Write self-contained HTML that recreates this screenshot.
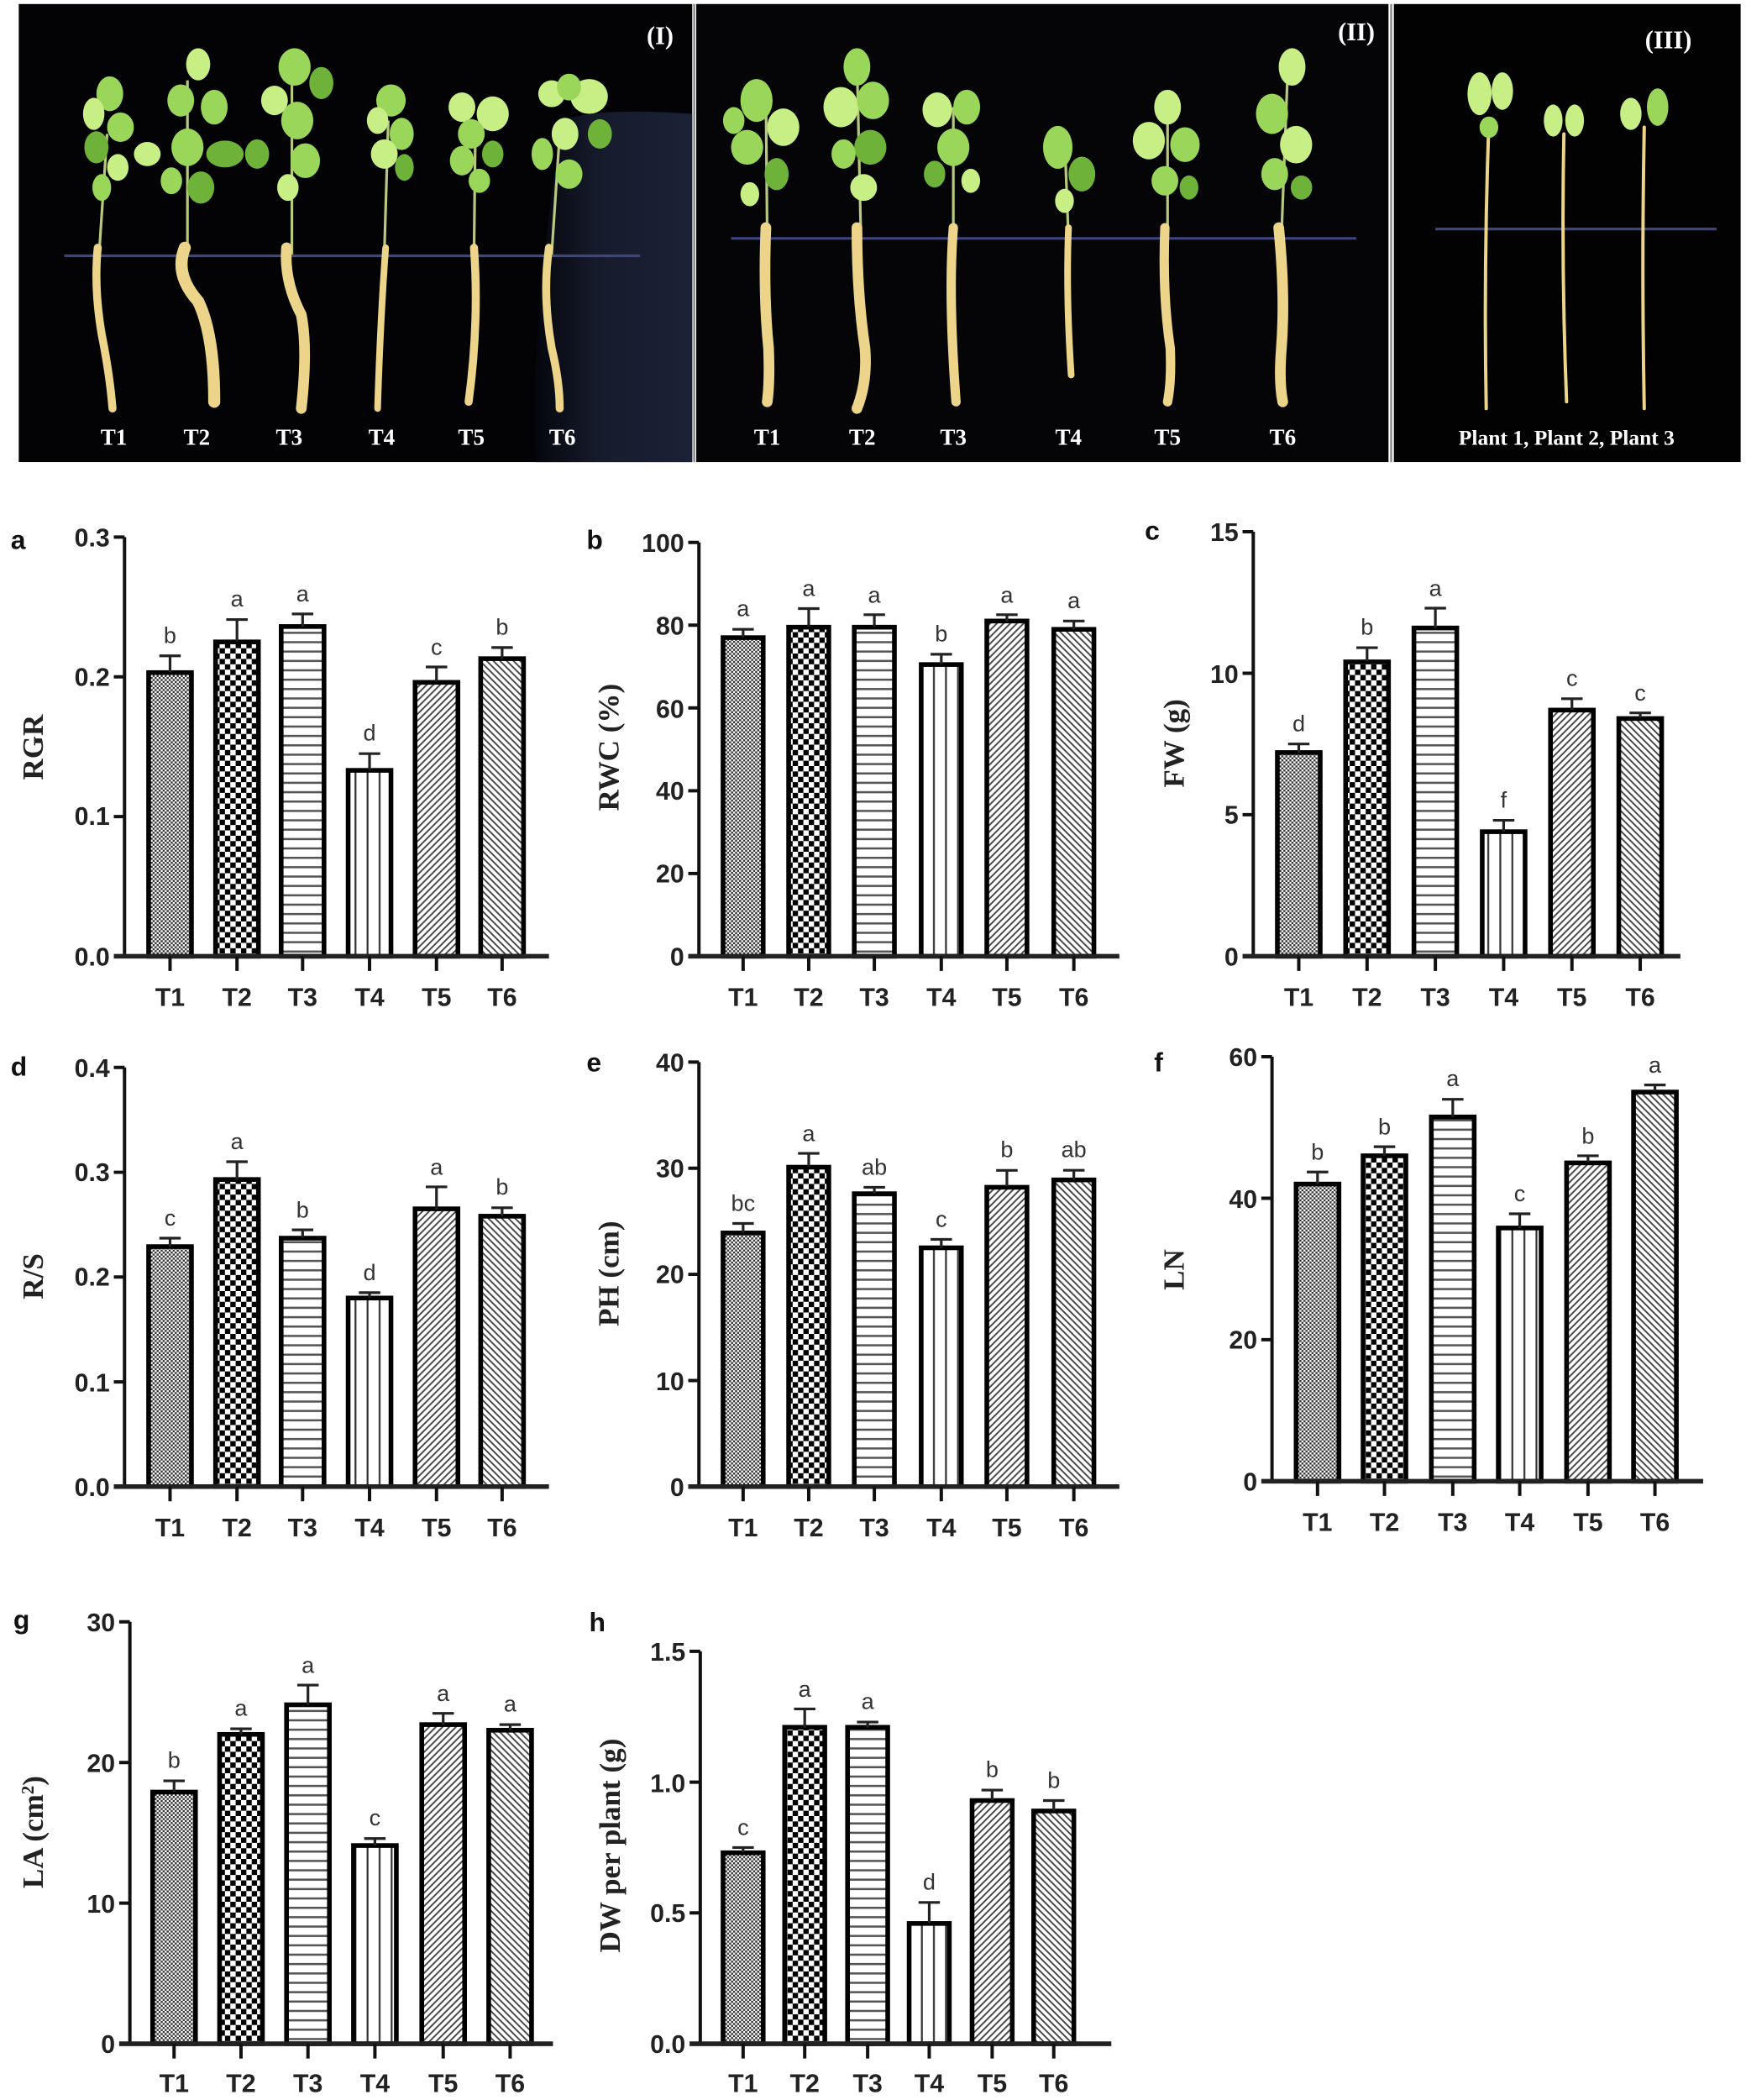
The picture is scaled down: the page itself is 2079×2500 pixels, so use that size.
<!DOCTYPE html>
<html><head><meta charset="utf-8"><style>
html,body{margin:0;padding:0;background:#fff}
svg{display:block}
.tk{font-family:"Liberation Sans",sans-serif;font-weight:bold;font-size:19px;fill:#222;text-anchor:end}
.xl{font-family:"Liberation Sans",sans-serif;font-weight:bold;font-size:19px;fill:#222;text-anchor:middle}
.lt{font-family:"Liberation Sans",sans-serif;font-size:17px;fill:#333;text-anchor:middle}
.pl{font-family:"Liberation Sans",sans-serif;font-weight:bold;font-size:20px;fill:#111}
.yl{font-family:"Liberation Serif",serif;font-weight:bold;font-size:22px;fill:#222;text-anchor:middle}
.ph{font-family:"Liberation Serif",serif;font-weight:bold;font-size:17px;fill:#fff;text-anchor:middle}
.bar{stroke:#000;stroke-width:3.5}
.ax{stroke:#111;stroke-width:2.5;fill:none}
.xa{stroke:#222;stroke-width:3.5}
.eb{stroke:#222;stroke-width:2;fill:none}
.stem{stroke:#b8c880;stroke-width:2;fill:none}
.root{stroke:#ecd48a;fill:none;stroke-linecap:round}
.a{fill:#9ad65a}.b{fill:#c8ef86}.c{fill:#6fb23a}
</style></head><body>
<svg width="2079" height="2500" viewBox="0 0 1304 1568" preserveAspectRatio="none" xmlns="http://www.w3.org/2000/svg">
<defs>
<pattern id="p1" width="3" height="3" patternUnits="userSpaceOnUse"><rect width="3" height="3" fill="#fff"/><rect width="1.5" height="1.5" fill="#333"/><rect x="1.5" y="1.5" width="1.5" height="1.5" fill="#333"/></pattern>
<pattern id="p2" width="8" height="8" patternUnits="userSpaceOnUse"><rect width="8" height="8" fill="#fff"/><rect width="4" height="4" fill="#000"/><rect x="4" y="4" width="4" height="4" fill="#000"/></pattern>
<pattern id="p3" width="10" height="7" patternUnits="userSpaceOnUse"><rect width="10" height="7" fill="#fff"/><line x1="0" y1="3.5" x2="10" y2="3.5" stroke="#555" stroke-width="1.6"/></pattern>
<pattern id="p4" width="9" height="10" patternUnits="userSpaceOnUse"><rect width="9" height="10" fill="#fff"/><line x1="4.5" y1="0" x2="4.5" y2="10" stroke="#333" stroke-width="1.4"/></pattern>
<pattern id="p5" width="5" height="5" patternUnits="userSpaceOnUse"><rect width="5" height="5" fill="#fff"/><path d="M-1,6 L6,-1 M-1,1 L1,-1 M4,6 L6,4" stroke="#444" stroke-width="1.2"/></pattern>
<pattern id="p6" width="5" height="5" patternUnits="userSpaceOnUse"><rect width="5" height="5" fill="#fff"/><path d="M-1,-1 L6,6 M4,-1 L6,1 M-1,4 L1,6" stroke="#444" stroke-width="1.2"/></pattern>
<linearGradient id="cloth" x1="0" x2="1"><stop offset="0" stop-color="#05060c"/><stop offset="0.4" stop-color="#161b2c"/><stop offset="1" stop-color="#1b2236"/></linearGradient>
</defs>

<!-- PHOTO PANELS -->
<rect x="14" y="3" width="503" height="342" fill="#030305"/>
<path d="M420,90 Q445,80 517,85 L517,345 L400,345 Q395,250 420,90 Z" fill="url(#cloth)"/>
<rect x="520" y="3" width="517" height="342" fill="#050507"/>
<rect x="1041" y="3" width="259" height="342" fill="#020203"/>
<line x1="518.5" y1="3" x2="518.5" y2="345" stroke="#888" stroke-width="1.5"/>
<line x1="1039" y1="3" x2="1039" y2="345" stroke="#888" stroke-width="1.5"/>
<line x1="48" y1="191" x2="478" y2="191" stroke="#3e447e" stroke-width="2"/>
<line x1="546" y1="178" x2="1013" y2="178" stroke="#3e447e" stroke-width="2"/>
<line x1="1072" y1="171" x2="1282" y2="171" stroke="#3e447e" stroke-width="2"/>

<!-- panel I plants -->
<g>
<path class="stem" d="M74,190 L80,100"/><path class="root" stroke-width="6" d="M73,185 Q70,215 76,250 Q82,280 84,305"/>
<ellipse class="a" cx="82" cy="70" rx="10" ry="13"/><ellipse class="b" cx="70" cy="85" rx="8" ry="12"/><ellipse class="a" cx="90" cy="95" rx="10" ry="11"/><ellipse class="c" cx="72" cy="110" rx="9" ry="12"/><ellipse class="b" cx="88" cy="125" rx="8" ry="10"/><ellipse class="a" cx="76" cy="140" rx="7" ry="10"/>
<path class="stem" d="M140,190 L140,60"/><path class="root" stroke-width="9" d="M138,185 Q130,205 148,225 Q160,250 160,300"/>
<ellipse class="b" cx="148" cy="48" rx="9" ry="12"/><ellipse class="a" cx="135" cy="75" rx="10" ry="12"/><ellipse class="a" cx="160" cy="80" rx="10" ry="13"/><ellipse class="c" cx="168" cy="115" rx="14" ry="10"/><ellipse class="b" cx="110" cy="115" rx="10" ry="9"/><ellipse class="a" cx="140" cy="110" rx="12" ry="14"/><ellipse class="c" cx="150" cy="140" rx="10" ry="12"/><ellipse class="a" cx="128" cy="135" rx="8" ry="10"/>
<path class="stem" d="M218,190 L218,60"/><path class="root" stroke-width="8" d="M214,185 Q212,210 225,235 Q230,260 225,305"/>
<ellipse class="a" cx="220" cy="50" rx="12" ry="14"/><ellipse class="c" cx="240" cy="62" rx="9" ry="12"/><ellipse class="b" cx="205" cy="75" rx="10" ry="11"/><ellipse class="a" cx="222" cy="90" rx="12" ry="14"/><ellipse class="c" cx="192" cy="115" rx="9" ry="11"/><ellipse class="a" cx="228" cy="120" rx="11" ry="13"/><ellipse class="b" cx="215" cy="140" rx="8" ry="10"/>
<path class="stem" d="M287,190 L290,90"/><path class="root" stroke-width="5" d="M288,185 Q284,240 282,305"/>
<ellipse class="a" cx="292" cy="75" rx="11" ry="12"/><ellipse class="b" cx="282" cy="90" rx="8" ry="10"/><ellipse class="a" cx="300" cy="100" rx="9" ry="12"/><ellipse class="b" cx="287" cy="115" rx="10" ry="11"/><ellipse class="c" cx="302" cy="125" rx="7" ry="10"/>
<path class="stem" d="M354,190 L355,100"/><path class="root" stroke-width="6" d="M354,185 Q358,240 350,300"/>
<ellipse class="b" cx="345" cy="80" rx="10" ry="11"/><ellipse class="b" cx="368" cy="85" rx="12" ry="13"/><ellipse class="a" cx="352" cy="100" rx="10" ry="11"/><ellipse class="a" cx="345" cy="120" rx="9" ry="11"/><ellipse class="c" cx="368" cy="115" rx="8" ry="10"/><ellipse class="a" cx="358" cy="135" rx="8" ry="9"/>
<path class="stem" d="M412,190 L418,100"/><path class="root" stroke-width="6" d="M410,185 Q405,220 412,260 Q418,285 418,305"/>
<ellipse class="b" cx="412" cy="70" rx="10" ry="10"/><ellipse class="b" cx="440" cy="72" rx="14" ry="13"/><ellipse class="a" cx="425" cy="65" rx="9" ry="10"/><ellipse class="b" cx="422" cy="100" rx="10" ry="12"/><ellipse class="c" cx="448" cy="100" rx="9" ry="11"/><ellipse class="a" cx="405" cy="115" rx="8" ry="12"/><ellipse class="a" cx="425" cy="130" rx="10" ry="11"/>
</g>
<!-- panel II plants -->
<g>
<path class="stem" d="M573,178 L572,70"/><path class="root" stroke-width="8" d="M572,170 Q570,220 574,260 Q575,285 573,300"/>
<ellipse class="a" cx="565" cy="75" rx="12" ry="16"/><ellipse class="b" cx="585" cy="95" rx="12" ry="14"/><ellipse class="a" cx="558" cy="110" rx="12" ry="13"/><ellipse class="c" cx="580" cy="130" rx="9" ry="12"/><ellipse class="b" cx="560" cy="145" rx="7" ry="9"/><ellipse class="a" cx="548" cy="90" rx="8" ry="10"/>
<path class="stem" d="M643,178 L640,45"/><path class="root" stroke-width="8" d="M640,170 Q640,220 646,260 Q648,285 640,305"/>
<ellipse class="a" cx="640" cy="50" rx="10" ry="14"/><ellipse class="b" cx="628" cy="80" rx="13" ry="15"/><ellipse class="a" cx="652" cy="75" rx="12" ry="14"/><ellipse class="c" cx="650" cy="110" rx="12" ry="13"/><ellipse class="a" cx="630" cy="115" rx="9" ry="11"/><ellipse class="b" cx="645" cy="140" rx="10" ry="10"/>
<path class="stem" d="M712,178 L712,80"/><path class="root" stroke-width="7" d="M712,170 Q708,220 714,300"/>
<ellipse class="b" cx="700" cy="82" rx="11" ry="13"/><ellipse class="a" cx="722" cy="80" rx="10" ry="13"/><ellipse class="a" cx="712" cy="110" rx="12" ry="14"/><ellipse class="c" cx="698" cy="130" rx="8" ry="10"/><ellipse class="b" cx="725" cy="135" rx="7" ry="9"/>
<path class="stem" d="M798,178 L795,100"/><path class="root" stroke-width="5" d="M798,170 Q796,220 800,280"/>
<ellipse class="a" cx="790" cy="110" rx="11" ry="16"/><ellipse class="c" cx="808" cy="130" rx="10" ry="13"/><ellipse class="b" cx="795" cy="150" rx="7" ry="9"/>
<path class="stem" d="M872,178 L872,80"/><path class="root" stroke-width="7" d="M870,170 Q868,220 874,260 Q875,285 872,300"/>
<ellipse class="b" cx="872" cy="80" rx="10" ry="13"/><ellipse class="b" cx="858" cy="105" rx="12" ry="14"/><ellipse class="a" cx="885" cy="108" rx="11" ry="13"/><ellipse class="a" cx="870" cy="135" rx="10" ry="11"/><ellipse class="c" cx="888" cy="140" rx="7" ry="9"/>
<path class="stem" d="M957,178 L962,45"/><path class="root" stroke-width="8" d="M955,170 Q960,220 957,260 Q955,285 958,300"/>
<ellipse class="b" cx="965" cy="50" rx="10" ry="14"/><ellipse class="a" cx="950" cy="85" rx="12" ry="15"/><ellipse class="b" cx="968" cy="108" rx="12" ry="14"/><ellipse class="a" cx="952" cy="130" rx="10" ry="12"/><ellipse class="c" cx="972" cy="140" rx="8" ry="9"/>
</g>
<!-- panel III plants -->
<g>
<path class="root" stroke-width="2.5" d="M1112,90 Q1108,200 1110,305"/>
<ellipse class="b" cx="1105" cy="70" rx="9" ry="16"/><ellipse class="b" cx="1122" cy="68" rx="8" ry="14"/><ellipse class="a" cx="1112" cy="95" rx="7" ry="8"/>
<path class="root" stroke-width="2.5" d="M1168,100 Q1166,200 1170,300"/>
<ellipse class="b" cx="1160" cy="90" rx="7" ry="12"/><ellipse class="b" cx="1176" cy="90" rx="7" ry="12"/>
<path class="root" stroke-width="2.5" d="M1228,95 Q1226,200 1228,305"/>
<ellipse class="b" cx="1218" cy="85" rx="8" ry="12"/><ellipse class="a" cx="1238" cy="80" rx="8" ry="14"/>
</g>
<text class="ph" x="493" y="33" style="font-size:19px">(I)</text>
<text class="ph" x="1013" y="30" style="font-size:19px">(II)</text>
<text class="ph" x="1246" y="36" style="font-size:19px">(III)</text>
<text class="ph" x="85" y="332">T1</text><text class="ph" x="147" y="332">T2</text><text class="ph" x="216" y="332">T3</text><text class="ph" x="285" y="332">T4</text><text class="ph" x="352" y="332">T5</text><text class="ph" x="420" y="332">T6</text>
<text class="ph" x="573" y="332">T1</text><text class="ph" x="644" y="332">T2</text><text class="ph" x="712" y="332">T3</text><text class="ph" x="798" y="332">T4</text><text class="ph" x="872" y="332">T5</text><text class="ph" x="958" y="332">T6</text>
<text class="ph" x="1170" y="332" style="font-size:16px">Plant 1,  Plant 2, Plant 3</text>

<!-- ============ PANEL a ============ -->
<text class="pl" x="8" y="410">a</text>
<text class="yl" transform="translate(32,558) rotate(-90)">RGR</text>
<path class="ax" d="M93,401 L93,714 M85,401 L93,401 M85,505.4 L93,505.4 M85,609.7 L93,609.7"/>
<text class="tk" x="82" y="408">0.3</text><text class="tk" x="82" y="512">0.2</text><text class="tk" x="82" y="616">0.1</text><text class="tk" x="82" y="721">0.0</text>
<rect class="bar" x="111" y="502.2" width="32" height="211.8" fill="url(#p1)"/>
<rect class="bar" x="161" y="479.3" width="32" height="234.7" fill="url(#p2)"/>
<rect class="bar" x="210" y="467.8" width="32" height="246.2" fill="url(#p3)"/>
<rect class="bar" x="260" y="575.2" width="32" height="138.8" fill="url(#p4)"/>
<rect class="bar" x="310" y="509.5" width="32" height="204.5" fill="url(#p5)"/>
<rect class="bar" x="359" y="491.8" width="32" height="222.2" fill="url(#p6)"/>
<path class="eb" d="M127,502 V489.7 M119,489.7 H135 M177,479 V462.6 M169,462.6 H185 M226,468 V458.4 M218,458.4 H234 M276,575 V562.7 M268,562.7 H284 M326,509 V498 M318,498 H334 M375,492 V483.5 M367,483.5 H383"/>
<text class="lt" x="127" y="480">b</text><text class="lt" x="177" y="453">a</text><text class="lt" x="226" y="449">a</text><text class="lt" x="276" y="553">d</text><text class="lt" x="326" y="489">c</text><text class="lt" x="375" y="474">b</text>
<line class="xa" x1="85" y1="714" x2="410" y2="714"/>
<path class="ax" d="M127,714 V725 M177,714 V725 M226,714 V725 M276,714 V725 M326,714 V725 M375,714 V725"/>
<text class="xl" x="127" y="751">T1</text><text class="xl" x="177" y="751">T2</text><text class="xl" x="226" y="751">T3</text><text class="xl" x="276" y="751">T4</text><text class="xl" x="326" y="751">T5</text><text class="xl" x="375" y="751">T6</text>

<!-- ============ PANEL b ============ -->
<text class="pl" x="438" y="410">b</text>
<text class="yl" transform="translate(462,558) rotate(-90)">RWC (%)</text>
<path class="ax" d="M522,405 L522,714 M514,405 H522 M514,466.8 H522 M514,528.6 H522 M514,590.4 H522 M514,652.2 H522"/>
<text class="tk" x="511" y="412">100</text><text class="tk" x="511" y="474">80</text><text class="tk" x="511" y="536">60</text><text class="tk" x="511" y="597">40</text><text class="tk" x="511" y="659">20</text><text class="tk" x="511" y="721">0</text>
<rect class="bar" x="540" y="476.1" width="30" height="237.9" fill="url(#p1)"/>
<rect class="bar" x="589" y="468.3" width="30" height="245.7" fill="url(#p2)"/>
<rect class="bar" x="638" y="468.3" width="30" height="245.7" fill="url(#p3)"/>
<rect class="bar" x="688" y="496.2" width="30" height="217.8" fill="url(#p4)"/>
<rect class="bar" x="737" y="463.7" width="30" height="250.3" fill="url(#p5)"/>
<rect class="bar" x="787" y="469.9" width="30" height="244.1" fill="url(#p6)"/>
<path class="eb" d="M555,476 V469.9 M547,469.9 H563 M604,468 V454.4 M596,454.4 H612 M653,468 V459 M645,459 H661 M703,496 V488.5 M695,488.5 H711 M752,464 V459 M744,459 H760 M802,470 V463.7 M794,463.7 H810"/>
<text class="lt" x="555" y="460">a</text><text class="lt" x="604" y="445">a</text><text class="lt" x="653" y="450">a</text><text class="lt" x="703" y="479">b</text><text class="lt" x="752" y="450">a</text><text class="lt" x="802" y="454">a</text>
<line class="xa" x1="514" y1="714" x2="836" y2="714"/>
<path class="ax" d="M555,714 V725 M604,714 V725 M653,714 V725 M703,714 V725 M752,714 V725 M802,714 V725"/>
<text class="xl" x="555" y="751">T1</text><text class="xl" x="604" y="751">T2</text><text class="xl" x="653" y="751">T3</text><text class="xl" x="703" y="751">T4</text><text class="xl" x="752" y="751">T5</text><text class="xl" x="802" y="751">T6</text>

<!-- ============ PANEL c ============ -->
<text class="pl" x="855" y="403">c</text>
<text class="yl" transform="translate(884,555) rotate(-90)">FW (g)</text>
<path class="ax" d="M936,397 L936,714 M928,397 H936 M928,502.7 H936 M928,608.3 H936"/>
<text class="tk" x="925" y="404">15</text><text class="tk" x="925" y="510">10</text><text class="tk" x="925" y="615">5</text><text class="tk" x="925" y="721">0</text>
<rect class="bar" x="954" y="561.9" width="32" height="152.1" fill="url(#p1)"/>
<rect class="bar" x="1005" y="494.2" width="32" height="219.8" fill="url(#p2)"/>
<rect class="bar" x="1056" y="468.9" width="32" height="245.1" fill="url(#p3)"/>
<rect class="bar" x="1107" y="621" width="32" height="93" fill="url(#p4)"/>
<rect class="bar" x="1158" y="530.2" width="32" height="183.8" fill="url(#p5)"/>
<rect class="bar" x="1209" y="536.5" width="32" height="177.5" fill="url(#p6)"/>
<path class="eb" d="M970,562 V555.5 M962,555.5 H978 M1021,494 V483.6 M1013,483.6 H1029 M1072,469 V454.1 M1064,454.1 H1080 M1123,621 V612.5 M1115,612.5 H1131 M1174,530 V521.7 M1166,521.7 H1182 M1225,536 V532.3 M1217,532.3 H1233"/>
<text class="lt" x="970" y="546">d</text><text class="lt" x="1021" y="474">b</text><text class="lt" x="1072" y="445">a</text><text class="lt" x="1123" y="603">f</text><text class="lt" x="1174" y="512">c</text><text class="lt" x="1225" y="523">c</text>
<line class="xa" x1="928" y1="714" x2="1255" y2="714"/>
<path class="ax" d="M970,714 V725 M1021,714 V725 M1072,714 V725 M1123,714 V725 M1174,714 V725 M1225,714 V725"/>
<text class="xl" x="970" y="751">T1</text><text class="xl" x="1021" y="751">T2</text><text class="xl" x="1072" y="751">T3</text><text class="xl" x="1123" y="751">T4</text><text class="xl" x="1174" y="751">T5</text><text class="xl" x="1225" y="751">T6</text>

<!-- ============ PANEL d ============ -->
<text class="pl" x="8" y="803">d</text>
<text class="yl" transform="translate(32,953) rotate(-90)">R/S</text>
<path class="ax" d="M93,797 L93,1110 M85,797 H93 M85,875.3 H93 M85,953.5 H93 M85,1031.8 H93"/>
<text class="tk" x="82" y="804">0.4</text><text class="tk" x="82" y="882">0.3</text><text class="tk" x="82" y="960">0.2</text><text class="tk" x="82" y="1039">0.1</text><text class="tk" x="82" y="1117">0.0</text>
<rect class="bar" x="111" y="930.8" width="32" height="179.2" fill="url(#p1)"/>
<rect class="bar" x="161" y="880.7" width="32" height="229.3" fill="url(#p2)"/>
<rect class="bar" x="210" y="924.5" width="32" height="185.5" fill="url(#p3)"/>
<rect class="bar" x="260" y="969.2" width="32" height="140.8" fill="url(#p4)"/>
<rect class="bar" x="310" y="902.6" width="32" height="207.4" fill="url(#p5)"/>
<rect class="bar" x="359" y="908.1" width="32" height="201.9" fill="url(#p6)"/>
<path class="eb" d="M127,931 V924.5 M119,924.5 H135 M177,881 V867.4 M169,867.4 H185 M226,924 V918.3 M218,918.3 H234 M276,969 V965.2 M268,965.2 H284 M326,903 V886.2 M318,886.2 H334 M375,908 V901.8 M367,901.8 H383"/>
<text class="lt" x="127" y="915">c</text><text class="lt" x="177" y="858">a</text><text class="lt" x="226" y="909">b</text><text class="lt" x="276" y="956">d</text><text class="lt" x="326" y="877">a</text><text class="lt" x="375" y="892">b</text>
<line class="xa" x1="85" y1="1110" x2="410" y2="1110"/>
<path class="ax" d="M127,1110 V1121 M177,1110 V1121 M226,1110 V1121 M276,1110 V1121 M326,1110 V1121 M375,1110 V1121"/>
<text class="xl" x="127" y="1147">T1</text><text class="xl" x="177" y="1147">T2</text><text class="xl" x="226" y="1147">T3</text><text class="xl" x="276" y="1147">T4</text><text class="xl" x="326" y="1147">T5</text><text class="xl" x="375" y="1147">T6</text>

<!-- ============ PANEL e ============ -->
<text class="pl" x="438" y="800">e</text>
<text class="yl" transform="translate(462,951) rotate(-90)">PH (cm)</text>
<path class="ax" d="M522,793 L522,1110 M514,793 H522 M514,872.3 H522 M514,951.5 H522 M514,1030.8 H522"/>
<text class="tk" x="511" y="800">40</text><text class="tk" x="511" y="879">30</text><text class="tk" x="511" y="958">20</text><text class="tk" x="511" y="1038">10</text><text class="tk" x="511" y="1117">0</text>
<rect class="bar" x="540" y="920.6" width="30" height="189.4" fill="url(#p1)"/>
<rect class="bar" x="589" y="871.5" width="30" height="238.5" fill="url(#p2)"/>
<rect class="bar" x="638" y="891.3" width="30" height="218.7" fill="url(#p3)"/>
<rect class="bar" x="688" y="931.7" width="30" height="178.3" fill="url(#p4)"/>
<rect class="bar" x="737" y="886.5" width="30" height="223.5" fill="url(#p5)"/>
<rect class="bar" x="787" y="881" width="30" height="229" fill="url(#p6)"/>
<path class="eb" d="M555,921 V913.5 M547,913.5 H563 M604,871 V861.2 M596,861.2 H612 M653,891 V886.5 M645,886.5 H661 M703,932 V925.4 M695,925.4 H711 M752,886 V873.9 M744,873.9 H760 M802,881 V873.8 M794,873.8 H810"/>
<text class="lt" x="555" y="904">bc</text><text class="lt" x="604" y="852">a</text><text class="lt" x="653" y="877">ab</text><text class="lt" x="703" y="916">c</text><text class="lt" x="752" y="864">b</text><text class="lt" x="802" y="864">ab</text>
<line class="xa" x1="514" y1="1110" x2="836" y2="1110"/>
<path class="ax" d="M555,1110 V1121 M604,1110 V1121 M653,1110 V1121 M703,1110 V1121 M752,1110 V1121 M802,1110 V1121"/>
<text class="xl" x="555" y="1147">T1</text><text class="xl" x="604" y="1147">T2</text><text class="xl" x="653" y="1147">T3</text><text class="xl" x="703" y="1147">T4</text><text class="xl" x="752" y="1147">T5</text><text class="xl" x="802" y="1147">T6</text>

<!-- ============ PANEL f ============ -->
<text class="pl" x="862" y="800">f</text>
<text class="yl" transform="translate(884,948) rotate(-90)">LN</text>
<path class="ax" d="M950,789 L950,1106 M942,789 H950 M942,894.7 H950 M942,1000.3 H950"/>
<text class="tk" x="939" y="796">60</text><text class="tk" x="939" y="902">40</text><text class="tk" x="939" y="1007">20</text><text class="tk" x="939" y="1113">0</text>
<rect class="bar" x="968" y="884.1" width="32" height="221.9" fill="url(#p1)"/>
<rect class="bar" x="1018" y="863" width="32" height="243" fill="url(#p2)"/>
<rect class="bar" x="1069" y="834" width="32" height="272" fill="url(#p3)"/>
<rect class="bar" x="1119" y="916.9" width="32" height="189.1" fill="url(#p4)"/>
<rect class="bar" x="1170" y="868.3" width="32" height="237.7" fill="url(#p5)"/>
<rect class="bar" x="1220" y="815.4" width="32" height="290.6" fill="url(#p6)"/>
<path class="eb" d="M984,884 V875.1 M976,875.1 H992 M1034,863 V856.2 M1026,856.2 H1042 M1085,834 V820.8 M1077,820.8 H1093 M1135,917 V906.3 M1127,906.3 H1143 M1186,868 V863 M1178,863 H1194 M1236,815 V810.1 M1228,810.1 H1244"/>
<text class="lt" x="984" y="866">b</text><text class="lt" x="1034" y="847">b</text><text class="lt" x="1085" y="811">a</text><text class="lt" x="1135" y="897">c</text><text class="lt" x="1186" y="854">b</text><text class="lt" x="1236" y="801">a</text>
<line class="xa" x1="942" y1="1106" x2="1272" y2="1106"/>
<path class="ax" d="M984,1106 V1117 M1034,1106 V1117 M1085,1106 V1117 M1135,1106 V1117 M1186,1106 V1117 M1236,1106 V1117"/>
<text class="xl" x="984" y="1143">T1</text><text class="xl" x="1034" y="1143">T2</text><text class="xl" x="1085" y="1143">T3</text><text class="xl" x="1135" y="1143">T4</text><text class="xl" x="1186" y="1143">T5</text><text class="xl" x="1236" y="1143">T6</text>

<!-- ============ PANEL g ============ -->
<text class="pl" x="10" y="1216">g</text>
<text class="yl" transform="translate(32,1368) rotate(-90)">LA (cm<tspan dy="-7" style="font-size:13px">2</tspan><tspan dy="7">)</tspan></text>
<path class="ax" d="M97,1211 L97,1526 M89,1211 H97 M89,1316 H97 M89,1421 H97"/>
<text class="tk" x="86" y="1218">30</text><text class="tk" x="86" y="1323">20</text><text class="tk" x="86" y="1428">10</text><text class="tk" x="86" y="1533">0</text>
<rect class="bar" x="114" y="1338.1" width="32" height="187.9" fill="url(#p1)"/>
<rect class="bar" x="164" y="1295" width="32" height="231" fill="url(#p2)"/>
<rect class="bar" x="214" y="1272.9" width="32" height="253.1" fill="url(#p3)"/>
<rect class="bar" x="264" y="1378" width="32" height="148" fill="url(#p4)"/>
<rect class="bar" x="315" y="1287.7" width="32" height="238.3" fill="url(#p5)"/>
<rect class="bar" x="365" y="1291.9" width="32" height="234.1" fill="url(#p6)"/>
<path class="eb" d="M130,1338 V1329.7 M122,1329.7 H138 M180,1295 V1290.8 M172,1290.8 H188 M230,1273 V1258.2 M222,1258.2 H238 M280,1378 V1372.8 M272,1372.8 H288 M331,1288 V1279.3 M323,1279.3 H339 M381,1292 V1287.7 M373,1287.7 H389"/>
<text class="lt" x="130" y="1320">b</text><text class="lt" x="180" y="1281">a</text><text class="lt" x="230" y="1249">a</text><text class="lt" x="280" y="1363">c</text><text class="lt" x="331" y="1270">a</text><text class="lt" x="381" y="1278">a</text>
<line class="xa" x1="89" y1="1526" x2="413" y2="1526"/>
<path class="ax" d="M130,1526 V1537 M180,1526 V1537 M230,1526 V1537 M280,1526 V1537 M331,1526 V1537 M381,1526 V1537"/>
<text class="xl" x="130" y="1562">T1</text><text class="xl" x="180" y="1562">T2</text><text class="xl" x="230" y="1562">T3</text><text class="xl" x="280" y="1562">T4</text><text class="xl" x="331" y="1562">T5</text><text class="xl" x="381" y="1562">T6</text>

<!-- ============ PANEL h ============ -->
<text class="pl" x="440" y="1218">h</text>
<text class="yl" transform="translate(463,1378) rotate(-90)">DW per plant (g)</text>
<path class="ax" d="M523,1233 L523,1526 M515,1233 H523 M515,1330.7 H523 M515,1428.3 H523"/>
<text class="tk" x="512" y="1240">1.5</text><text class="tk" x="512" y="1338">1.0</text><text class="tk" x="512" y="1435">0.5</text><text class="tk" x="512" y="1533">0.0</text>
<rect class="bar" x="540" y="1383.4" width="30" height="142.6" fill="url(#p1)"/>
<rect class="bar" x="586" y="1289.7" width="30" height="236.3" fill="url(#p2)"/>
<rect class="bar" x="633" y="1289.7" width="30" height="236.3" fill="url(#p3)"/>
<rect class="bar" x="679" y="1436.2" width="30" height="89.8" fill="url(#p4)"/>
<rect class="bar" x="726" y="1344.4" width="30" height="181.6" fill="url(#p5)"/>
<rect class="bar" x="772" y="1352.2" width="30" height="173.8" fill="url(#p6)"/>
<path class="eb" d="M555,1383 V1379.5 M547,1379.5 H563 M601,1290 V1276 M593,1276 H609 M648,1290 V1285.8 M640,1285.8 H656 M694,1436 V1420.5 M686,1420.5 H702 M741,1344 V1336.6 M733,1336.6 H749 M787,1352 V1344.4 M779,1344.4 H795"/>
<text class="lt" x="555" y="1370">c</text><text class="lt" x="601" y="1267">a</text><text class="lt" x="648" y="1276">a</text><text class="lt" x="694" y="1411">d</text><text class="lt" x="741" y="1327">b</text><text class="lt" x="787" y="1335">b</text>
<line class="xa" x1="515" y1="1526" x2="830" y2="1526"/>
<path class="ax" d="M555,1526 V1537 M601,1526 V1537 M648,1526 V1537 M694,1526 V1537 M741,1526 V1537 M787,1526 V1537"/>
<text class="xl" x="555" y="1562">T1</text><text class="xl" x="601" y="1562">T2</text><text class="xl" x="648" y="1562">T3</text><text class="xl" x="694" y="1562">T4</text><text class="xl" x="741" y="1562">T5</text><text class="xl" x="787" y="1562">T6</text>
</svg>
</body></html>
